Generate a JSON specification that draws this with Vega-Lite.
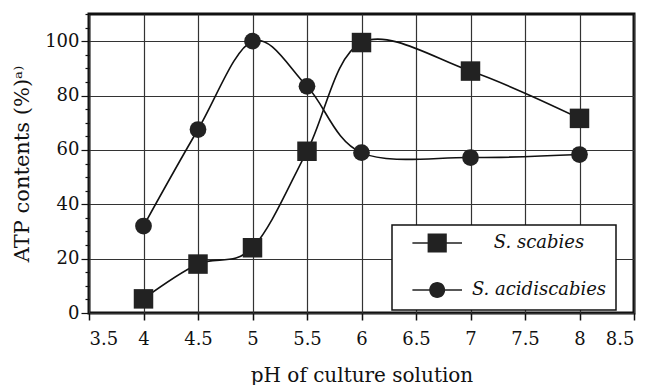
{
  "$schema": "https://vega.github.io/schema/vega-lite/v6.json",
  "width": 545,
  "height": 299,
  "autosize": "none",
  "padding": {"left": 89, "top": 14, "right": 19, "bottom": 72},
  "background": "white",
  "config": {
    "view": {"stroke": "#111", "strokeWidth": 3},
    "font": "DejaVu Serif",
    "legend": {"strokeWidth": 1.5}
  },
  "data": {
    "values": [
      {"pH": 4, "atp": 5.2, "series": "S. scabies"},
      {"pH": 4.5, "atp": 18, "series": "S. scabies"},
      {"pH": 5, "atp": 24, "series": "S. scabies"},
      {"pH": 5.5, "atp": 59.5, "series": "S. scabies"},
      {"pH": 6, "atp": 99.5, "series": "S. scabies"},
      {"pH": 7, "atp": 89, "series": "S. scabies"},
      {"pH": 8, "atp": 71.6, "series": "S. scabies"},
      {"pH": 4, "atp": 32, "series": "S. acidiscabies"},
      {"pH": 4.5, "atp": 67.5, "series": "S. acidiscabies"},
      {"pH": 5, "atp": 100, "series": "S. acidiscabies"},
      {"pH": 5.5, "atp": 83.4, "series": "S. acidiscabies"},
      {"pH": 6, "atp": 59, "series": "S. acidiscabies"},
      {"pH": 7, "atp": 57.2, "series": "S. acidiscabies"},
      {"pH": 8, "atp": 58.3, "series": "S. acidiscabies"}
    ]
  },
  "encoding": {
    "x": {
      "field": "pH", "type": "quantitative",
      "scale": {"domain": [3.5, 8.5], "nice": false, "zero": false},
      "axis": {
        "values": [3.5, 4, 4.5, 5, 5.5, 6, 6.5, 7, 7.5, 8, 8.5],
        "format": "~g",
        "title": "pH of culture solution",
        "titleFont": "DejaVu Serif", "titleFontSize": 20, "titleFontWeight": "normal", "titleColor": "#111",
        "titlePadding": 17,
        "labelFont": "DejaVu Serif", "labelFontSize": 18, "labelColor": "#111", "labelPadding": 10,
        "tickColor": "#111", "tickSize": 7, "tickWidth": 1.5,
        "domain": false,
        "grid": true, "gridColor": "#333", "gridWidth": 1.2
      }
    },
    "y": {
      "field": "atp", "type": "quantitative",
      "scale": {"domain": [0, 110], "nice": false},
      "axis": {
        "values": [0, 5, 10, 15, 20, 25, 30, 35, 40, 45, 50, 55, 60, 65, 70, 75, 80, 85, 90, 95, 100, 105, 110],
        "labelExpr": "datum.value % 20 === 0 ? datum.label : ''",
        "title": "ATP contents (%)ᵃ⁾",
        "titleFont": "DejaVu Serif", "titleFontSize": 21, "titleFontWeight": "normal", "titleColor": "#111",
        "titlePadding": 12,
        "labelFont": "DejaVu Serif", "labelFontSize": 18, "labelColor": "#111", "labelPadding": 2,
        "tickColor": "#111", "tickWidth": 1.2,
        "tickSize": {"condition": {"test": "datum.value % 20 === 0", "value": 8}, "value": 4},
        "domain": false,
        "grid": true, "gridColor": "#333", "gridWidth": 1.2,
        "gridOpacity": {"condition": {"test": "datum.value % 20 === 0", "value": 1}, "value": 0}
      }
    }
  },
  "layer": [
    {
      "mark": {"type": "line", "interpolate": "cardinal", "color": "#111", "strokeWidth": 1.6},
      "encoding": {"detail": {"field": "series"}}
    },
    {
      "mark": {"type": "point", "filled": true, "color": "#222", "opacity": 1},
      "encoding": {
        "shape": {"condition": {"test": "datum.series === 'S. scabies'", "value": "square"}, "value": "circle"},
        "size": {"condition": {"test": "datum.series === 'S. scabies'", "value": 380}, "value": 280}
      }
    },
    {
      "transform": [{"filter": "datum.atp < -1000"}],
      "mark": {"type": "point", "filled": true, "color": "#222", "opacity": 1},
      "encoding": {
        "shape": {"field": "series", "type": "nominal",
          "scale": {"domain": ["S. scabies", "S. acidiscabies"],
            "range": [
              "M0.3,-0.09L2.2,-0.09L2.2,0.09L0.3,0.09Z M4.6,-0.09L6.5,-0.09L6.5,0.09L4.6,0.09Z M2.2,-1.2L4.6,-1.2L4.6,1.2L2.2,1.2Z",
              "M0.3,-0.09L2.5,-0.09L2.5,0.09L0.3,0.09Z M4.3,-0.09L6.5,-0.09L6.5,0.09L4.3,0.09Z M2.4,0A1,1 0 1,1 4.4,0A1,1 0 1,1 2.4,0Z"
            ]},
          "legend": {
            "title": null,
            "orient": "none", "legendX": 303, "legendY": 211,
            "direction": "vertical",
            "fillColor": "white", "strokeColor": "#111",
            "padding": 9,
            "rowPadding": 22,
            "symbolSize": 256,
            "symbolFillColor": "#222",
            "labelFont": "DejaVu Serif", "labelFontStyle": "italic", "labelFontSize": 18, "labelColor": "#111",
            "labelAlign": "center", "labelOffset": 120, "labelLimit": 400,
            "encode": {
              "symbols": {
                "update": {
                  "fill": {"value": "#222"},
                  "fillOpacity": {"value": 1},
                  "opacity": {"value": 1}
                }
              }
            }
          }
        }
      }
    }
  ]
}
